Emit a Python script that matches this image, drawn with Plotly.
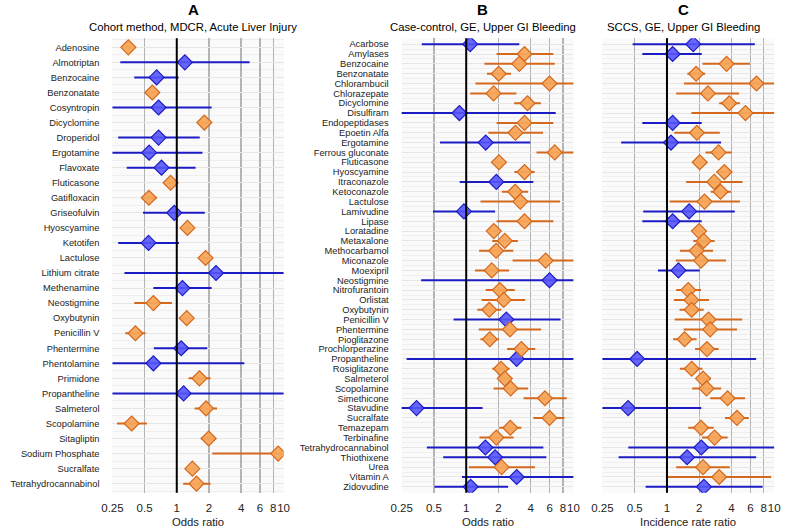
import plotly.graph_objects as go

# ---------------- data ----------------
drugs_a = ["Adenosine", "Almotriptan", "Benzocaine", "Benzonatate", "Cosyntropin",
           "Dicyclomine", "Droperidol", "Ergotamine", "Flavoxate", "Fluticasone",
           "Gatifloxacin", "Griseofulvin", "Hyoscyamine", "Ketotifen", "Lactulose",
           "Lithium citrate", "Methenamine", "Neostigmine", "Oxybutynin", "Penicillin V",
           "Phentermine", "Phentolamine", "Primidone", "Propantheline", "Salmeterol",
           "Scopolamine", "Sitagliptin", "Sodium Phosphate", "Sucralfate", "Tetrahydrocannabinol"]
a_est = [0.352, 1.19, 0.648, 0.59, 0.675, 1.81, 0.675, 0.551, 0.72, 0.875,
         0.548, 0.946, 1.26, 0.544, 1.86, 2.33, 1.13, 0.604, 1.24, 0.41,
         1.10, 0.604, 1.63, 1.16, 1.88, 0.378, 1.99, 8.9, 1.40, 1.53]
a_lo = [0.335, 0.296, 0.40, 0.545, 0.22, 1.68, 0.283, 0.20, 0.34, 0.82,
        0.47, 0.483, 1.18, 0.283, 1.74, 0.324, 0.604, 0.40, 1.16, 0.329,
        0.61, 0.20, 1.29, 0.15, 1.47, 0.276, 1.68, 2.15, 1.29, 1.15]
a_hi = [0.37, 4.8, 1.04, 0.64, 2.12, 1.95, 1.64, 1.74, 1.50, 0.93,
        0.65, 1.83, 1.34, 1.05, 1.99, 15.0, 2.12, 0.90, 1.32, 0.51,
        1.93, 4.29, 2.07, 12.0, 2.38, 0.525, 2.32, 30.0, 1.52, 2.07]

drugs_bc = ["Acarbose", "Amylases", "Benzocaine", "Benzonatate", "Chlorambucil",
            "Chlorazepate", "Dicyclomine", "Disulfiram", "Endopeptidases", "Epoetin Alfa",
            "Ergotamine", "Ferrous gluconate", "Fluticasone", "Hyoscyamine", "Itraconazole",
            "Ketoconazole", "Lactulose", "Lamivudine", "Lipase", "Loratadine",
            "Metaxalone", "Methocarbamol", "Miconazole", "Moexipril", "Neostigmine",
            "Nitrofurantoin", "Orlistat", "Oxybutynin", "Penicillin V", "Phentermine",
            "Pioglitazone", "Prochlorperazine", "Propantheline", "Rosiglitazone", "Salmeterol",
            "Scopolamine", "Simethicone", "Stavudine", "Sucralfate", "Temazepam",
            "Terbinafine", "Tetrahydrocannabinol", "Thiothixene", "Urea", "Vitamin A",
            "Zidovudine"]
b_est = [1.09, 3.50, 3.13, 2.01, 5.99, 1.80, 3.73, 0.864, 3.50, 2.88,
         1.52, 6.70, 2.02, 3.50, 1.91, 2.86, 3.20, 0.952, 3.50, 1.81,
         2.29, 1.90, 5.51, 1.73, 5.99, 2.06, 2.24, 1.64, 2.37, 2.56,
         1.66, 3.27, 2.96, 2.11, 2.29, 2.60, 5.43, 0.344, 5.99, 2.58,
         1.91, 1.51, 1.86, 2.14, 2.96, 1.10]
b_lo = [0.385, 1.92, 1.48, 1.56, 1.22, 1.09, 2.80, 0.24, 1.92, 1.61,
        0.569, 4.53, 1.86, 2.82, 0.87, 2.15, 1.36, 0.49, 1.92, 1.68,
        1.75, 1.32, 2.71, 1.21, 0.38, 1.52, 1.39, 1.27, 0.762, 1.31,
        1.36, 2.41, 0.278, 1.75, 2.02, 1.80, 3.43, 0.24, 4.23, 2.03,
        1.33, 0.43, 0.61, 1.06, 0.913, 0.505]
b_hi = [3.13, 6.5, 6.7, 2.62, 14.0, 2.94, 4.97, 6.84, 6.5, 5.21,
        3.97, 14.0, 2.2, 4.35, 4.23, 3.78, 7.49, 1.86, 6.5, 1.96,
        3.03, 2.75, 14.0, 2.51, 14.0, 2.84, 3.55, 2.12, 7.59, 5.0,
        2.02, 4.41, 14.0, 2.54, 2.62, 3.78, 8.67, 1.42, 8.25, 3.27,
        2.77, 5.25, 5.59, 4.38, 14.0, 2.46]
c_est = [1.76, 1.13, 3.60, 1.87, 6.84, 2.41, 3.81, 5.40, 1.13, 1.90,
         1.09, 3.03, 2.02, 3.43, 2.76, 3.16, 2.24, 1.61, 1.13, 1.99,
         2.20, 1.89, 2.08, 1.28, None, 1.58, 1.69, 1.70, 2.44, 2.53,
         1.46, 2.36, 0.527, 1.70, 2.17, 2.34, 3.68, 0.434, 4.50, 2.08,
         2.78, 2.09, 1.54, 2.17, 3.07, 2.21]
c_lo = [0.478, 0.589, 2.15, 1.55, 1.44, 1.22, 3.07, 1.69, 0.589, 1.17,
        0.374, 2.29, 1.86, 2.90, 1.51, 2.56, 1.06, 0.601, 0.589, 1.84,
        1.76, 1.32, 1.21, 0.823, None, 1.22, 1.16, 1.31, 1.18, 1.43,
        1.14, 1.83, 0.24, 1.32, 1.89, 1.72, 2.53, 0.24, 3.48, 1.58,
        2.12, 0.436, 0.354, 1.22, 1.02, 0.632]
c_hi = [6.6, 2.11, 5.95, 2.27, 14.0, 4.69, 4.79, 14.0, 2.11, 3.11,
        3.20, 4.03, 2.2, 4.06, 5.07, 3.97, 4.79, 4.29, 2.11, 2.15,
        2.78, 2.69, 3.55, 2.02, None, 2.08, 2.47, 2.20, 5.03, 4.50,
        1.89, 3.03, 6.79, 2.14, 2.56, 3.20, 5.36, 2.09, 5.79, 2.73,
        3.68, 14.0, 6.79, 3.86, 9.36, 7.81]

tick_vals = [0.25, 0.5, 1, 2, 4, 6, 8, 10]
tick_text = ["0.25", "0.5", "1", "2", "4", "6", "8", "10"]
panel_letters = ["A", "B", "C"]
panel_subtitles = ["Cohort method, MDCR, Acute Liver Injury",
                   "Case-control, GE, Upper GI Bleeding",
                   "SCCS, GE, Upper GI Bleeding"]
x_titles = ["Odds ratio", "Odds ratio", "Incidence rate ratio"]

# ---------------- styling ----------------
FONT = "Arial, Liberation Sans, Helvetica, sans-serif"
BLUE_LINE = "#1c1cc4"
BLUE_FILL = "rgba(85,85,250,0.9)"
ORANGE_LINE = "#d4681c"
ORANGE_FILL = "rgba(245,165,90,0.95)"
W, H = 787, 530
x_dom_px = [(103.7, 278.6), (399.3, 574.8), (604.5, 780.0)]
y_top_px, y_bot_px = 38.3, 492.7
y_dom = [1 - y_bot_px / H, 1 - y_top_px / H]

fig = go.Figure()

panels = [(drugs_a, a_est, a_lo, a_hi), (drugs_bc, b_est, b_lo, b_hi), (drugs_bc, c_est, c_lo, c_hi)]

for p, (names, est, lo, hi) in enumerate(panels):
    xa = "x" if p == 0 else f"x{p+1}"
    ya = "y" if p == 0 else f"y{p+1}"
    groups = {"ns": ([], [], [], []), "sig": ([], [], [], [])}
    for i, (e, l, h) in enumerate(zip(est, lo, hi)):
        if e is None:
            continue
        key = "sig" if (l > 1 or h < 1) else "ns"
        g = groups[key]
        g[0].append(e); g[1].append(i); g[2].append(h - e); g[3].append(e - l)
    for key, lc, fc in [("ns", BLUE_LINE, BLUE_FILL), ("sig", ORANGE_LINE, ORANGE_FILL)]:
        xs, ys, ep, em = groups[key]
        fig.add_trace(go.Scatter(
            x=xs, y=ys, mode="markers", xaxis=xa, yaxis=ya, showlegend=False,
            marker=dict(symbol="diamond", size=11.5, color=fc, line=dict(color=lc, width=1.2)),
            error_x=dict(type="data", symmetric=False, array=ep, arrayminus=em,
                         color=lc, thickness=2, width=0),
        ))

    n = len(names)
    pad = 0.6
    x0, x1 = x_dom_px[p]
    fig.update_layout(**{
        ("xaxis" if p == 0 else f"xaxis{p+1}"): dict(
            type="log", domain=[x0 / W, x1 / W], range=[-0.60206, 1.0],
            anchor=ya, tickvals=tick_vals, ticktext=tick_text, tickangle=0,
            showgrid=True, gridcolor="#b4b4b4", gridwidth=1.3,
            zeroline=False, showline=False, ticks="", ticklabelstandoff=7,
            tickfont=dict(family=FONT, size=11.5, color="#222"),
            fixedrange=True,
        ),
        ("yaxis" if p == 0 else f"yaxis{p+1}"): dict(
            domain=y_dom, anchor=xa, range=[n - 1 + pad, -pad],
            tickvals=list(range(n)), ticktext=names,
            showticklabels=(p != 2),
            showgrid=True, gridcolor="#e6e6e6", gridwidth=1,
            minor=dict(showgrid=True, gridcolor="#efefef", gridwidth=1,
                       tickvals=[i + 0.5 for i in range(-1, n)]),
            zeroline=False, showline=False, ticks="", ticklabelstandoff=12,
            tickfont=dict(family=FONT, size=9.3, color="#222"),
            fixedrange=True,
        ),
    })
    # background rectangle
    fig.add_shape(type="rect", xref="paper", yref="paper", x0=x0 / W, x1=x1 / W,
                  y0=y_dom[0], y1=y_dom[1], fillcolor="#fafafa", line_width=0, layer="below")
    # reference line at 1
    fig.add_shape(type="line", xref=xa, yref=f"{ya} domain", x0=1, x1=1, y0=0, y1=1,
                  line=dict(color="black", width=2), layer="above")

    cx = (x0 + x1) / 2 - 5
    fig.add_annotation(x=cx / W, y=1 - 10 / H, xref="paper", yref="paper", text="<b>" + panel_letters[p] + "</b>",
                       showarrow=False, font=dict(family=FONT, size=15, color="black"), xanchor="center", yanchor="middle")
    fig.add_annotation(x=cx / W, y=1 - 26.5 / H, xref="paper", yref="paper", text=panel_subtitles[p],
                       showarrow=False, font=dict(family=FONT, size=11.3, color="black"), xanchor="center", yanchor="middle")
    fig.add_annotation(x=(x0 + x1) / 2 / W, y=1 - 522 / H, xref="paper", yref="paper", text=x_titles[p],
                       showarrow=False, font=dict(family=FONT, size=11.3, color="#222"), xanchor="center", yanchor="middle")

fig.update_layout(width=W, height=H, autosize=False,
                  margin=dict(l=0, r=0, t=0, b=0),
                  paper_bgcolor="white", plot_bgcolor="rgba(0,0,0,0)",
                  font=dict(family=FONT))

fig.write_html("out.html", config={"displayModeBar": False, "staticPlot": True},
               post_script="document.body.style.margin='0';document.body.style.overflow='hidden';")
